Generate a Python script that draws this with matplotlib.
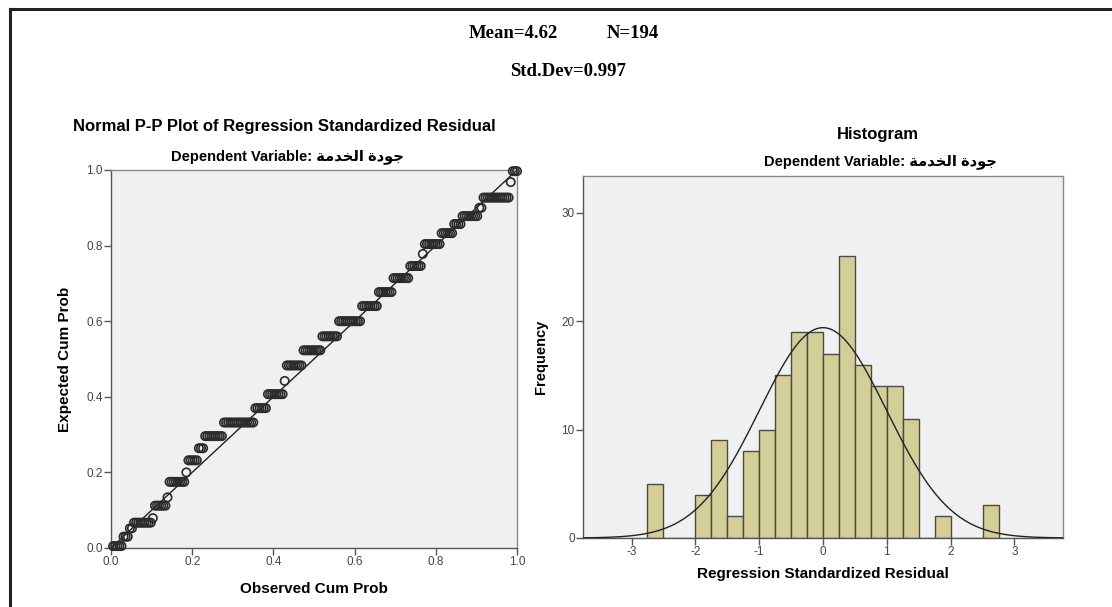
import numpy as np
import matplotlib
matplotlib.use("Agg")
from matplotlib import pyplot as plt
from matplotlib.lines import Line2D

# summary numbers printed on top
n_total = 194
mean_txt = "Mean=4.62"
sd_value = 0.997

# arabic dependent variable name, written in shaped visual order (matplotlib has no bidi)
dep_var = "\uFE94\uFEE3\uFEAA\uFEA8\uFEDF\uFE8D \uFE93\uFEA9\uFEEE\uFE9F"

# P-P plot: each run of tied residuals -> expected cum prob and number of points
pp_expected = [0.005, 0.030, 0.052, 0.067, 0.079, 0.112, 0.134, 0.175, 0.200, 0.232,
               0.264, 0.296, 0.332, 0.370, 0.407, 0.442, 0.483, 0.523, 0.560, 0.600,
               0.640, 0.677, 0.714, 0.746, 0.778, 0.804, 0.833, 0.857, 0.878, 0.900,
               0.927, 0.968, 0.997]
pp_counts = [5, 3, 2, 9, 1, 6, 1, 8, 1, 5,
             3, 9, 15, 6, 8, 1, 8, 9, 8, 11,
             8, 7, 8, 6, 1, 8, 6, 4, 8, 2,
             13, 1, 3]

# histogram of standardized residuals (bin width 0.25)
bin_left = [-2.75, -2.5, -2.25, -2.0, -1.75, -1.5, -1.25, -1.0, -0.75, -0.5, -0.25,
            0.0, 0.25, 0.5, 0.75, 1.0, 1.25, 1.5, 1.75, 2.0, 2.25, 2.5]
freq = [5, 0, 0, 4, 9, 2, 8, 10, 15, 19, 19,
        17, 26, 16, 14, 14, 11, 0, 2, 0, 0, 3]
bin_w = 0.25

BG = "#f0f0f0"
BAR = "#d3ce97"
EDGE = "#4a4a4a"
TICK = "#444444"
SANS = ["Liberation Sans", "DejaVu Sans"]

fig = plt.figure(figsize=(11.12, 6.07), dpi=100)
W, H = 1112.0, 607.0


def box(x0, y0, x1, y1):
    return [x0 / W, 1 - y1 / H, (x1 - x0) / W, (y1 - y0) / H]


def style_axes(ax):
    ax.set_facecolor(BG)
    for s in ax.spines.values():
        s.set_color("#8a8a8a")
        s.set_linewidth(1.0)
    ax.spines["left"].set_color("#555555")
    ax.spines["bottom"].set_color("#555555")
    ax.tick_params(direction="out", length=5, width=1, colors="#555555",
                   labelcolor=TICK, labelsize=8.5, pad=1)


# outer frame of the SPSS output
fig.add_artist(Line2D([10 / W, 1.0], [1 - 9 / H, 1 - 9 / H], color="#222222", lw=2.2))
fig.add_artist(Line2D([10 / W, 10 / W], [0.0, 1 - 9 / H], color="#222222", lw=2.2))

fig.text(513 / W, 1 - 33 / H, mean_txt, ha="center", va="center",
         family="Liberation Serif", weight="bold", fontsize=13.5)
fig.text(633 / W, 1 - 33 / H, f"N={n_total}", ha="center", va="center",
         family="Liberation Serif", weight="bold", fontsize=13.5)
fig.text(568 / W, 1 - 71 / H, f"Std.Dev={sd_value}", ha="center", va="center",
         family="Liberation Serif", weight="bold", fontsize=13.5)

# ---- P-P plot ----
ax1 = fig.add_axes(box(111, 170, 517, 548))
style_axes(ax1)
ranks = np.arange(1, n_total + 1)
obs = ranks / n_total
exp = np.repeat(pp_expected, pp_counts)
ax1.plot([0, 1], [0, 1], color="#222222", lw=1.0, zorder=2)
ax1.scatter(obs, exp, s=36, facecolors="none", edgecolors="#2b2b2b",
            linewidths=1.2, zorder=3, clip_on=False)
ax1.set_xlim(0, 1)
ax1.set_ylim(0, 1)
ax1.set_xticks([0, 0.2, 0.4, 0.6, 0.8, 1.0])
ax1.set_yticks([0, 0.2, 0.4, 0.6, 0.8, 1.0])
ax1.set_xticklabels(["0.0", "0.2", "0.4", "0.6", "0.8", "1.0"], family=SANS)
ax1.set_yticklabels(["0.0", "0.2", "0.4", "0.6", "0.8", "1.0"], family=SANS)
ax1.set_xlabel("Observed Cum Prob", family=SANS, weight="bold", fontsize=11, labelpad=10)
ax1.set_ylabel("Expected Cum Prob", family=SANS, weight="bold", fontsize=11, labelpad=10)
fig.text(284 / W, 1 - 127 / H, "Normal P-P Plot of Regression Standardized Residual",
         ha="center", va="center", family=SANS, weight="bold", fontsize=12)
fig.text(287 / W, 1 - 157 / H, "Dependent Variable: " + dep_var,
         ha="center", va="center", family=SANS, weight="bold", fontsize=10.5)

# ---- histogram ----
ax2 = fig.add_axes(box(583, 176, 1063, 538))
style_axes(ax2)
ax2.bar(bin_left, freq, width=bin_w, align="edge", color=BAR,
        edgecolor=EDGE, linewidth=1.0, zorder=2)
xs = np.linspace(-3.76, 3.76, 400)
curve = n_total * bin_w * np.exp(-0.5 * (xs / sd_value) ** 2) / (sd_value * np.sqrt(2 * np.pi))
ax2.plot(xs, curve, color="#222222", lw=1.0, zorder=3)
ax2.set_xlim(-3.76, 3.76)
ax2.set_ylim(0, 33.4)
ax2.set_xticks([-3, -2, -1, 0, 1, 2, 3])
ax2.set_yticks([0, 10, 20, 30])
ax2.set_xticklabels(["-3", "-2", "-1", "0", "1", "2", "3"], family=SANS)
ax2.set_yticklabels(["0", "10", "20", "30"], family=SANS)
ax2.set_xlabel("Regression Standardized Residual", family=SANS, weight="bold",
               fontsize=11, labelpad=6)
ax2.set_ylabel("Frequency", family=SANS, weight="bold", fontsize=10.5, labelpad=10)
fig.text(878 / W, 1 - 134 / H, "Histogram", ha="center", va="center",
         family=SANS, weight="bold", fontsize=12)
fig.text(880 / W, 1 - 162 / H, "Dependent Variable: " + dep_var,
         ha="center", va="center", family=SANS, weight="bold", fontsize=10.5)

fig.savefig("out.png", dpi=100, facecolor="white")
